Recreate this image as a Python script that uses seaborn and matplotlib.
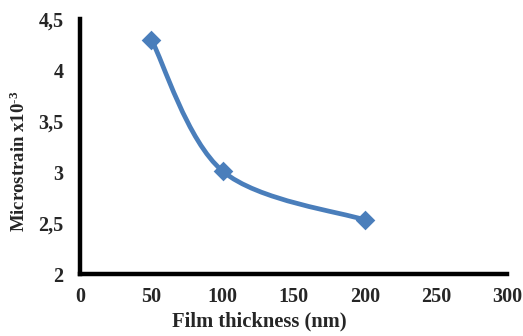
import numpy as np
import pandas as pd
import matplotlib
matplotlib.use("Agg")
import matplotlib.pyplot as plt
import seaborn as sns
from matplotlib.path import Path
from matplotlib.patches import PathPatch
from matplotlib.ticker import FixedLocator, FuncFormatter

thickness = [50, 100, 200]
microstrain = [4.30, 3.01, 2.53]
x_ticks = [0, 50, 100, 150, 200, 250, 300]
y_ticks = [2.0, 2.5, 3.0, 3.5, 4.0, 4.5]
y_tick_labels = ["2", "2,5", "3", "3,5", "4", "4,5"]
x_label = "Film thickness (nm)"
y_label = r"Microstrain x10$^{\text{-3}}$"

sns.set_theme(style="white")
plt.rcParams["font.family"] = ["Liberation Serif", "DejaVu Serif"]
plt.rcParams["font.weight"] = "bold"
plt.rcParams["mathtext.fontset"] = "custom"
plt.rcParams["mathtext.rm"] = "Liberation Serif:bold"
plt.rcParams["mathtext.bf"] = "Liberation Serif:bold"
plt.rcParams["mathtext.default"] = "bf"

color = "#4A7EBB"
fig = plt.figure(figsize=(5.23, 3.36), dpi=100)
ax = fig.add_axes([0.1535, 0.1845, 0.816, 0.7585])

df = pd.DataFrame({"thickness": thickness, "microstrain": microstrain})

# Excel-style smoothed line (Catmull-Rom Bezier) through the data points
pts = np.column_stack([thickness, microstrain]).astype(float)
n = len(pts)
verts = [tuple(pts[0])]
codes = [Path.MOVETO]
for i in range(n - 1):
    p_prev = pts[i - 1] if i > 0 else pts[i]
    p0 = pts[i]
    p1 = pts[i + 1]
    p_next = pts[i + 2] if i + 2 < n else pts[i + 1]
    c1 = p0 + (p1 - p_prev) / 6.0
    c2 = p1 - (p_next - p0) / 6.0
    verts += [tuple(c1), tuple(c2), tuple(p1)]
    codes += [Path.CURVE4] * 3
ax.add_patch(PathPatch(Path(verts, codes), facecolor="none", edgecolor=color,
                       lw=3.4, capstyle="round", zorder=2))

sns.scatterplot(data=df, x="thickness", y="microstrain", marker="D", s=100,
                color=color, edgecolor=color, linewidth=0, ax=ax, zorder=3)

ax.set_xlim(0, 300)
ax.set_ylim(2, 4.5)
ax.xaxis.set_major_locator(FixedLocator(x_ticks))
ax.yaxis.set_major_locator(FixedLocator(y_ticks))
ax.yaxis.set_major_formatter(FuncFormatter(lambda v, p: y_tick_labels[y_ticks.index(round(v, 1))] if round(v, 1) in y_ticks else ""))
ax.tick_params(axis="both", length=0, labelsize=14.5)
ax.tick_params(axis="x", pad=9)
ax.tick_params(axis="y", pad=12)
for lab in ax.get_xticklabels() + ax.get_yticklabels():
    lab.set_fontweight("bold")

for s in ["top", "right"]:
    ax.spines[s].set_visible(False)
for s in ["left", "bottom"]:
    ax.spines[s].set_color("black")
    ax.spines[s].set_linewidth(3.2)

ax.set_xlabel(x_label, fontsize=14.8, fontweight="bold")
ax.set_ylabel(y_label, fontsize=13.5, fontweight="bold")
ax.xaxis.set_label_coords(0.4190, -0.146)
ax.yaxis.set_label_coords(-0.121, 0.443)

fig.savefig("out.png", dpi=100)
